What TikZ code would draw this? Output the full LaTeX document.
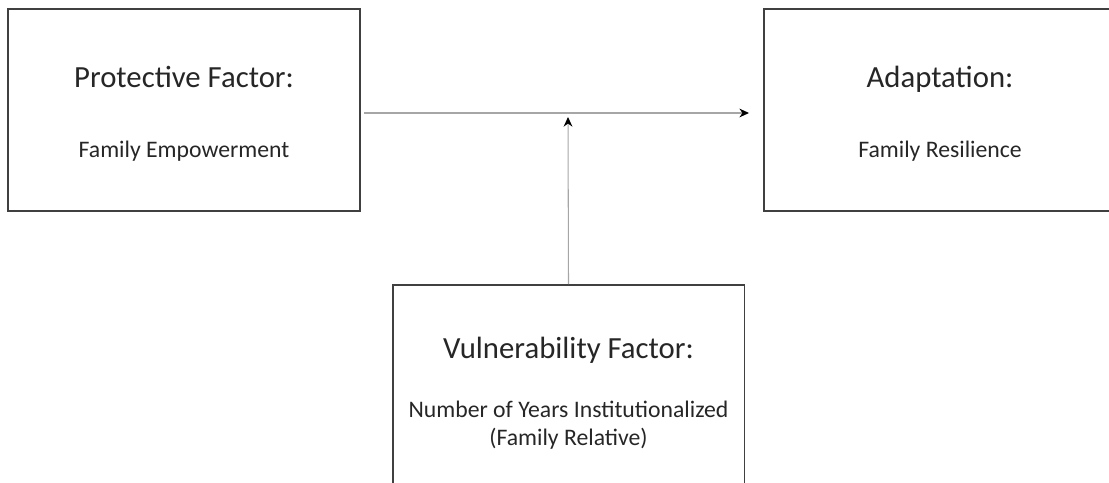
\documentclass[tikz,border=0pt]{standalone}
\usepackage{fontspec}
\setmainfont{Carlito}
\usetikzlibrary{positioning}
\usetikzlibrary{arrows.meta}

\begin{document}
\begin{tikzpicture}[x=0.02cm, y=-0.02cm,
  factorbox/.style={rectangle, draw=black!75, line width=1.1pt, minimum width=7.04cm, minimum height=4.04cm, inner sep=0pt},
  headtext/.style={anchor=base, text=black!85, font=\fontsize{17.5}{21}\selectfont},
  subtext/.style={anchor=base, text=black!85, font=\fontsize{13.5}{16.5}\selectfont, align=center},
  link/.style={draw=black!35, line width=0.6pt, -{Stealth[black, length=5.5pt, width=5pt]}}]

  \clip (0,0) rectangle (1109,483);

  \node[factorbox] (prot) at (184,110) {};
  \node[factorbox] (adapt) at (940,110) {};
  \node[factorbox] (vuln) at (568.5,386) {};

  \node[headtext] (protT) at (184,88) {Protective Factor:};
  \node[subtext] (protS) at (184,157) {Family Empowerment};
  \node[headtext] (adaptT) at (940,88) {Adaptation:};
  \node[subtext] (adaptS) at (940,157) {Family Resilience};
  \node[headtext] (vulnT) at (568.5,358) {Vulnerability Factor:};
  \node[subtext] (vulnS) at (568.5,417) {Number of Years Institutionalized};
  \node[subtext] (vulnR) at (568.5,445) {(Family Relative)};

  \coordinate (mid) at (568,117);

  \draw[link, shorten <=1.8pt, shorten >=8pt] (prot.east |- 0,113) -- (adapt.west |- 0,113);
  \draw[link] (vuln.north) -- (mid);
\end{tikzpicture}
\end{document}
